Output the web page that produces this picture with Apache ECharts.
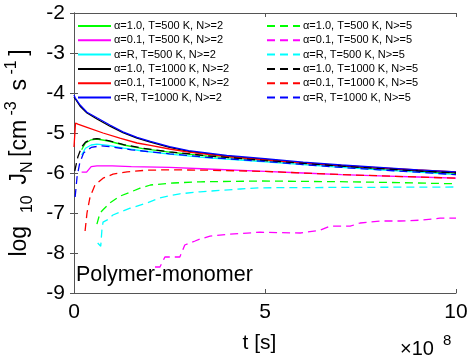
<!DOCTYPE html>
<html>
<head>
<meta charset="utf-8">
<script src="https://cdn.jsdelivr.net/npm/echarts@6/dist/echarts.min.js"></script>
<style>
html,body{margin:0;padding:0;background:#fff;}
#chart{width:469px;height:356px;}
</style>
</head>
<body>
<div id="chart"></div>
<script>
// t in units of 1e8 s, value = log10 J_N
var xTicks = [0, 5, 10];
var yTicks = [-9, -8, -7, -6, -5, -4, -3, -2];

var names2 = ['α=1.0, T=500 K, N>=2', 'α=0.1, T=500 K, N>=2', 'α=R, T=500 K, N>=2',
              'α=1.0, T=1000 K, N>=2', 'α=0.1, T=1000 K, N>=2', 'α=R, T=1000 K, N>=2'];
var names5 = ['α=1.0, T=500 K, N>=5', 'α=0.1, T=500 K, N>=5', 'α=R, T=500 K, N>=5',
              'α=1.0, T=1000 K, N>=5', 'α=0.1, T=1000 K, N>=5', 'α=R, T=1000 K, N>=5'];
var colors = ['#00ff00', '#ff00ff', '#00ffff', '#000000', '#ff0000', '#0000ff'];

// N>=2
var a10T500N2 = [[0.2,-5.42],[0.3,-5.25],[0.45,-5.17],[0.6,-5.15],[0.9,-5.2],[1.3,-5.3],[1.8,-5.39],[2.5,-5.48],[3.5,-5.58],[5,-5.69],[6,-5.76],[7,-5.83],[8,-5.89],[9,-5.95],[10,-6.01]];
var a01T500N2 = [[0.2,-5.98],[0.33,-5.98],[0.45,-5.84],[0.6,-5.82],[1,-5.82],[1.5,-5.84],[2.5,-5.86],[3.5,-5.9],[5,-5.96],[6,-6.0],[7,-6.04],[8,-6.07],[9,-6.1],[10,-6.13]];
var aRT500N2 = [[0.2,-5.55],[0.3,-5.38],[0.45,-5.3],[0.6,-5.28],[0.9,-5.31],[1.3,-5.38],[1.8,-5.45],[2.5,-5.53],[3.5,-5.62],[5,-5.72],[6,-5.79],[7,-5.86],[8,-5.92],[9,-5.98],[10,-6.04]];
var a10T1000N2 = [[0,-4.1],[0.03,-4.15],[0.16,-4.33],[0.34,-4.5],[0.6,-4.65],[0.94,-4.83],[1.28,-4.99],[1.65,-5.13],[2,-5.23],[2.5,-5.36],[3,-5.46],[4,-5.58],[5,-5.66],[6,-5.75],[7,-5.82],[8,-5.88],[9,-5.94],[10,-5.99]];
var a01T1000N2 = [[0,-5.35],[0.04,-4.75],[0.1,-4.78],[0.34,-4.86],[0.76,-5.0],[1.2,-5.13],[1.65,-5.25],[2,-5.31],[2.5,-5.4],[3,-5.48],[4,-5.59],[5,-5.67],[6,-5.75],[7,-5.81],[8,-5.87],[9,-5.92],[10,-5.97]];
var aRT1000N2 = [[0,-4.05],[0.03,-4.12],[0.16,-4.3],[0.34,-4.48],[0.6,-4.62],[0.94,-4.8],[1.28,-4.97],[1.65,-5.11],[2,-5.21],[2.5,-5.34],[3,-5.44],[4,-5.56],[5,-5.64],[6,-5.73],[7,-5.8],[8,-5.86],[9,-5.92],[10,-5.97]];

// N>=5
var a10T500N5 = [[0.6,-7.28],[0.68,-7.0],[0.76,-6.92],[0.94,-6.75],[1.2,-6.58],[1.47,-6.48],[1.73,-6.38],[2,-6.3],[2.6,-6.25],[3.3,-6.22],[4.9,-6.2],[6,-6.21],[7.2,-6.22],[8.5,-6.24],[10,-6.27]];
var a01T500N5 = [[2.12,-8.35],[2.25,-8.35],[2.38,-8.1],[2.77,-8.1],[2.9,-7.8],[3.17,-7.7],[3.3,-7.65],[3.56,-7.58],[4.08,-7.53],[4.87,-7.48],[5.92,-7.5],[6.44,-7.43],[6.7,-7.33],[7.23,-7.33],[7.49,-7.25],[8.01,-7.2],[8.53,-7.2],[9.06,-7.18],[9.58,-7.13],[10,-7.13]];
var aRT500N5 = [[0.62,-7.75],[0.7,-7.83],[0.73,-7.43],[0.76,-7.23],[0.86,-7.18],[1.02,-7.05],[1.2,-6.98],[1.47,-6.88],[1.91,-6.75],[2.25,-6.62],[2.77,-6.52],[3.3,-6.47],[4.35,-6.4],[4.87,-6.37],[7,-6.36],[10,-6.35]];
var a10T1000N5 = [[0.02,-5.95],[0.1,-5.6],[0.2,-5.35],[0.3,-5.23],[0.45,-5.16],[0.6,-5.14],[0.9,-5.19],[1.3,-5.29],[1.8,-5.38],[2.5,-5.47],[3.5,-5.57],[5,-5.69],[6,-5.76],[7,-5.83],[8,-5.89],[9,-5.95],[10,-6.0]];
var a01T1000N5 = [[0.29,-7.45],[0.34,-7.0],[0.42,-6.6],[0.55,-6.3],[0.76,-6.13],[1.02,-6.03],[1.39,-5.97],[1.91,-5.93],[2.5,-5.92],[3.5,-5.93],[5,-5.96],[6,-6.0],[7,-6.04],[8,-6.07],[9,-6.1],[10,-6.13]];
var aRT1000N5 = [[0.03,-6.6],[0.08,-6.1],[0.15,-5.75],[0.25,-5.5],[0.45,-5.36],[0.7,-5.32],[1.0,-5.35],[1.5,-5.42],[2.5,-5.52],[3.5,-5.61],[5,-5.71],[6,-5.79],[7,-5.86],[8,-5.92],[9,-5.98],[10,-6.04]];

var data2 = [a10T500N2, a01T500N2, aRT500N2, a10T1000N2, a01T1000N2, aRT1000N2];
var data5 = [a10T500N5, a01T500N5, aRT500N5, a10T1000N5, a01T1000N5, aRT1000N5];

var font = 'Liberation Sans, Arial, Helvetica, sans-serif';
var axisColor = '#555';

var series = [];
data2.forEach(function (d, i) {
    series.push({
        name: names2[i], type: 'line', data: d, symbol: 'none',
        lineStyle: {color: colors[i], width: 1.3, type: 'solid'},
        itemStyle: {color: colors[i]}
    });
});
data5.forEach(function (d, i) {
    series.push({
        name: names5[i], type: 'line', data: d, symbol: 'none',
        lineStyle: {color: colors[i], width: 1.3, type: [8, 5]},
        itemStyle: {color: colors[i]}
    });
});

var legendCommon = {
    orient: 'vertical', top: 20, itemWidth: 33, itemHeight: 12, itemGap: 2.3,
    padding: 0, selectedMode: false,
    itemStyle: {opacity: 0},
    textStyle: {fontFamily: font, fontSize: 11, color: '#000', lineHeight: 12, padding: [0, 0, 0, -2]}
};

var chart = echarts.init(document.getElementById('chart'));
chart.setOption({
    animation: false,
    backgroundColor: '#fff',
    grid: {left: 74, right: 13, top: 13, bottom: 63, outerBoundsMode: 'none'},
    legend: [
        Object.assign({left: 77, data: names2}, legendCommon),
        Object.assign({left: 266, data: names5}, legendCommon)
    ],
    xAxis: [{
        type: 'value', min: 0, max: 10, interval: 5,
        axisLine: {show: true, lineStyle: {color: axisColor, width: 1}},
        axisTick: {show: true, inside: true, length: 4, lineStyle: {color: axisColor}},
        axisLabel: {fontFamily: font, fontSize: 21, color: '#000', margin: 9,
                    formatter: function (v) { return xTicks.indexOf(v) >= 0 ? String(v) : ''; }},
        splitLine: {show: false},
        name: 't [s]', nameLocation: 'middle', nameGap: 40,
        nameTextStyle: {fontFamily: font, fontSize: 21, color: '#000', padding: [0, 11, 0, 0]}
    }, {
        type: 'value', position: 'top', min: 0, max: 10, interval: 5,
        axisLine: {show: true, lineStyle: {color: axisColor, width: 1}},
        axisTick: {show: true, inside: true, length: 4, lineStyle: {color: axisColor}},
        axisLabel: {show: false}, splitLine: {show: false}
    }],
    yAxis: [{
        type: 'value', min: -9, max: -2, interval: 1,
        axisLine: {show: true, lineStyle: {color: axisColor, width: 1}},
        axisTick: {show: true, inside: true, length: 4, lineStyle: {color: axisColor}},
        axisLabel: {fontFamily: font, fontSize: 21, color: '#000', margin: 9,
                    formatter: function (v) { return yTicks.indexOf(v) >= 0 ? String(v) : ''; }},
        splitLine: {show: false},
        name: '{b|log  }{sub|10 }{b| J}{sub|N }{b|[cm}{sup| -3 }{b| s}{sup| -1 }{b|]}',
        nameLocation: 'middle', nameGap: 34, nameRotate: 90,
        nameTextStyle: {
            fontFamily: font, color: '#000',
            rich: {
                b: {fontFamily: font, fontSize: 23, lineHeight: 32, verticalAlign: 'middle', color: '#000'},
                sub: {fontFamily: font, fontSize: 16, lineHeight: 16, verticalAlign: 'bottom', color: '#000'},
                sup: {fontFamily: font, fontSize: 16, lineHeight: 16, verticalAlign: 'top', color: '#000'}
            }
        }
    }, {
        type: 'value', position: 'right', min: -9, max: -2, interval: 1,
        axisLine: {show: true, lineStyle: {color: axisColor, width: 1}},
        axisTick: {show: true, inside: true, length: 4, lineStyle: {color: axisColor}},
        axisLabel: {show: false}, splitLine: {show: false}
    }],
    graphic: [{
        type: 'text', left: 76, top: 264,
        style: {text: 'Polymer-monomer', font: '21.5px ' + font, fill: '#000'}
    }, {
        type: 'text', left: 400, top: 333,
        style: {
            text: '{a|×10}{s|8}', fill: '#000',
            rich: {
                a: {fontFamily: font, fontSize: 20, lineHeight: 26, verticalAlign: 'bottom', fill: '#000'},
                s: {fontFamily: font, fontSize: 15, lineHeight: 15, verticalAlign: 'top', fill: '#000', padding: [0, 0, 0, 9]}
            }
        }
    }],
    series: series
});
</script>
</body>
</html>
